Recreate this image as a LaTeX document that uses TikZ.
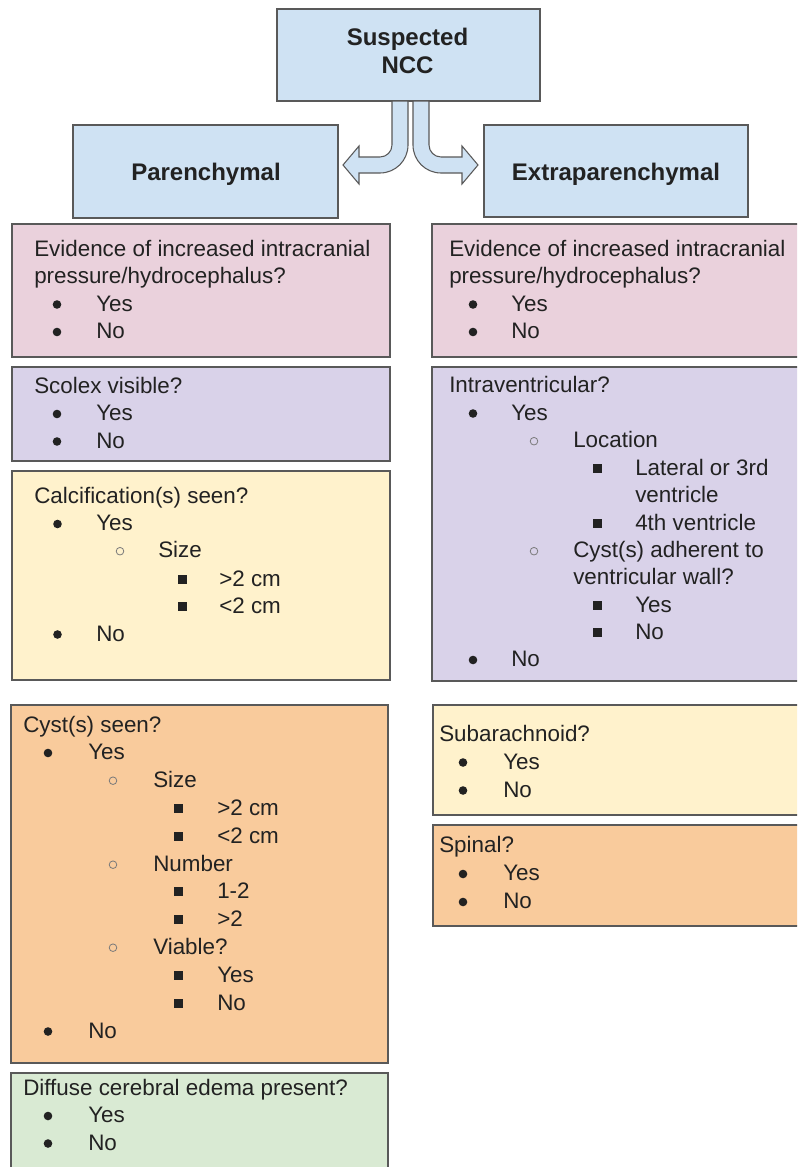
\documentclass[tikz,border=0pt]{standalone}
\usepackage{fontspec}
\setmainfont{Liberation Sans}
\usetikzlibrary{fit}
\definecolor{cblue}{HTML}{CFE2F3}
\definecolor{cpink}{HTML}{EAD1DC}
\definecolor{cpurple}{HTML}{D9D2E9}
\definecolor{cyellow}{HTML}{FFF2CC}
\definecolor{corange}{HTML}{F9CB9C}
\definecolor{cgreen}{HTML}{D9EAD3}
\definecolor{cline}{HTML}{595959}
\definecolor{ctext}{HTML}{222222}
\tikzset{
  box/.style={draw=cline, line width=1pt, inner sep=0pt},
  txt/.style={anchor=base west, inner sep=0pt, text=ctext, font=\fontsize{16.8}{20}\selectfont},
  ttl/.style={anchor=base, inner sep=0pt, text=ctext, font=\fontsize{18}{21}\selectfont\bfseries},
  barrow/.style={draw=cline, fill=cblue, line width=0.8pt, line join=miter},
}
\newcommand\Dsc[2]{\fill[ctext] (#1,#2-6.5) circle (4.3);}
\newcommand\Crc[2]{\draw[ctext!60, line width=0.6pt] (#1,#2-6.3) circle (3.8);}
\newcommand\Sqr[2]{\fill[ctext] (#1-4.5,#2-11.2) rectangle (#1+4.5,#2-2.2);}
\begin{document}
\begin{tikzpicture}[x=0.75pt,y=-0.75pt]
\clip (0,0) rectangle (797,1167);
\fill[white] (0,0) rectangle (797,1167);

% top boxes
\node[box, fill=cblue, fit={(277,9) (540,101)}] (ncc) {};
\node[box, fill=cblue, fit={(73,125) (338,218)}] (par) {};
\node[box, fill=cblue, fit={(484,125) (748,217)}] (ext) {};
\node[ttl] (nccA) at (407.5,45) {Suspected};
\node[ttl] (nccB) at (407.5,73) {NCC};
\node[ttl] (parT) at (206,180) {Parenchymal};
\node[ttl] (extT) at (616,180) {Extraparenchymal};

% bent block arrows
\draw[barrow] (392,101) -- (392,145) .. controls (392,151.6) and (386.6,157) .. (380,157)
  -- (359,157) -- (359,146) -- (343,165) -- (359,184) -- (359,173) -- (380,173)
  .. controls (395.5,173) and (408,160.5) .. (408,145) -- (408,101) -- cycle;
\draw[barrow] (429,101) -- (429,145) .. controls (429,151.6) and (434.4,157) .. (441,157)
  -- (462,157) -- (462,146) -- (478,165) -- (462,184) -- (462,173) -- (441,173)
  .. controls (425.5,173) and (413,160.5) .. (413,145) -- (413,101) -- cycle;

% left column boxes
\node[box, fill=cpink, fit={(12,224) (390,357)}] (lb1) {};
\node[box, fill=cpurple, fit={(12,367) (390,461)}] (lb2) {};
\node[box, fill=cyellow, fit={(12,471) (390,680)}] (lb3) {};
\node[box, fill=corange, fit={(11,705) (388,1063)}] (lb4) {};
\node[box, fill=cgreen, fit={(11,1073) (388,1180)}] (lb5) {};

% right column boxes
\node[box, fill=cpink, fit={(432,224) (805,357)}] (rb1) {};
\node[box, fill=cpurple, fit={(432,367) (805,681)}] (rb2) {};
\node[box, fill=cyellow, fit={(433,705) (805,815)}] (rb3) {};
\node[box, fill=corange, fit={(433,825) (805,926)}] (rb4) {};

% left pink
\node[txt] (l1a) at (34,256) {Evidence of increased intracranial};
\node[txt] (l1b) at (34,283.5) {pressure/hydrocephalus?};
\Dsc{57}{311}\node[txt] (l1c) at (96,311) {Yes};
\Dsc{57}{338.5}\node[txt] (l1d) at (96,338.5) {No};

% scolex
\node[txt] (l2a) at (34,393) {Scolex visible?};
\Dsc{57}{420.5}\node[txt] (l2b) at (96,420.5) {Yes};
\Dsc{57}{448}\node[txt] (l2c) at (96,448) {No};

% calcification
\node[txt] (l3a) at (34,503) {Calcification(s) seen?};
\Dsc{57.5}{530.5}\node[txt] (l3b) at (96,530.5) {Yes};
\Crc{120}{557.5}\node[txt] (l3c) at (158,557.5) {Size};
\Sqr{182}{586}\node[txt] (l3d) at (219,586) {>2 cm};
\Sqr{182}{613.5}\node[txt] (l3e) at (219,613.5) {<2 cm};
\Dsc{57.5}{641}\node[txt] (l3f) at (96,641) {No};

% cysts
\node[txt] (l4a) at (23,732) {Cyst(s) seen?};
\Dsc{48}{759.5}\node[txt] (l4b) at (88,759.5) {Yes};
\Crc{113}{787}\node[txt] (l4c) at (153,787) {Size};
\Sqr{178}{815}\node[txt] (l4d) at (217,815) {>2 cm};
\Sqr{178}{843}\node[txt] (l4e) at (217,843) {<2 cm};
\Crc{113}{871}\node[txt] (l4f) at (153,871) {Number};
\Sqr{178}{898.5}\node[txt] (l4g) at (217,898.5) {1-2};
\Sqr{178}{926.5}\node[txt] (l4h) at (217,926.5) {>2};
\Crc{113}{954}\node[txt] (l4i) at (153,954) {Viable?};
\Sqr{178}{982}\node[txt] (l4j) at (217,982) {Yes};
\Sqr{178}{1010}\node[txt] (l4k) at (217,1010) {No};
\Dsc{48}{1038}\node[txt] (l4l) at (88,1038) {No};

% edema
\node[txt] (l5a) at (23,1095) {Diffuse cerebral edema present?};
\Dsc{48}{1122.5}\node[txt] (l5b) at (88,1122.5) {Yes};
\Dsc{48}{1150}\node[txt] (l5c) at (88,1150) {No};

% right pink
\node[txt] (r1a) at (449,256) {Evidence of increased intracranial};
\node[txt] (r1b) at (449,283.5) {pressure/hydrocephalus?};
\Dsc{473}{311}\node[txt] (r1c) at (511,311) {Yes};
\Dsc{473}{338.5}\node[txt] (r1d) at (511,338.5) {No};

% intraventricular
\node[txt] (r2a) at (449,392.5) {Intraventricular?};
\Dsc{473}{420}\node[txt] (r2b) at (511,420) {Yes};
\Crc{534}{447.5}\node[txt] (r2c) at (573,447.5) {Location};
\Sqr{597}{475}\node[txt] (r2d) at (635,475) {Lateral or 3rd};
\node[txt] (r2e) at (635,502.5) {ventricle};
\Sqr{597}{530}\node[txt] (r2f) at (635,530) {4th ventricle};
\Crc{534}{557.5}\node[txt] (r2g) at (573,557.5) {Cyst(s) adherent to};
\node[txt] (r2h) at (573,584.5) {ventricular wall?};
\Sqr{597}{612}\node[txt] (r2i) at (635,612) {Yes};
\Sqr{597}{639}\node[txt] (r2j) at (635,639) {No};
\Dsc{473}{666.5}\node[txt] (r2k) at (511,666.5) {No};

% subarachnoid
\node[txt] (r3a) at (439,741) {Subarachnoid?};
\Dsc{463}{769}\node[txt] (r3b) at (503,769) {Yes};
\Dsc{463}{797}\node[txt] (r3c) at (503,797) {No};

% spinal
\node[txt] (r4a) at (439,852.5) {Spinal?};
\Dsc{463}{880.5}\node[txt] (r4b) at (503,880.5) {Yes};
\Dsc{463}{908.5}\node[txt] (r4c) at (503,908.5) {No};
\end{tikzpicture}
\end{document}
